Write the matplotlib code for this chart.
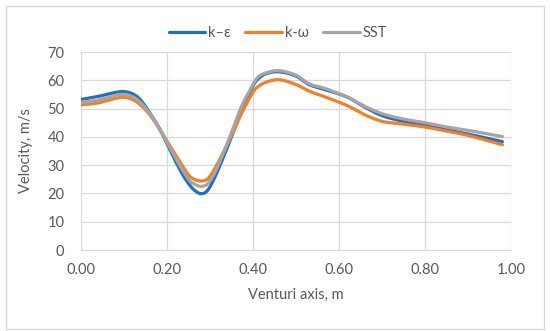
import numpy as np
import matplotlib
matplotlib.use("Agg")
import matplotlib.pyplot as plt
from matplotlib.patches import Rectangle

x_pos = [0.00, 0.04, 0.08, 0.10, 0.12, 0.137, 0.16, 0.184, 0.20, 0.23, 0.25, 0.265, 0.28,
         0.295, 0.315, 0.35, 0.371, 0.40, 0.412, 0.43, 0.46, 0.50, 0.53, 0.57, 0.62, 0.66,
         0.70, 0.75, 0.80, 0.85, 0.90, 0.98]
k_eps = [53.2, 54.3, 55.7, 56.0, 55.2, 53.3, 48.5, 42.5, 37.5, 28.4, 23.5, 21.0, 19.9,
         21.2, 27.0, 40.0, 48.5, 58.0, 60.5, 62.3, 63.0, 61.5, 58.5, 56.6, 54.0, 50.5,
         47.5, 45.5, 44.3, 42.5, 41.0, 38.3]
k_omega = [51.3, 52.0, 53.6, 54.0, 53.2, 51.5, 47.8, 42.5, 38.5, 31.3, 26.5, 24.9, 24.4,
           25.2, 29.8, 40.5, 47.5, 55.8, 57.8, 59.3, 60.2, 58.5, 56.2, 54.0, 51.0, 47.8,
           45.5, 44.5, 43.5, 42.0, 40.5, 37.2]
sst = [52.2, 53.0, 54.7, 55.0, 54.2, 52.4, 48.2, 42.5, 38.0, 29.8, 25.0, 23.2, 22.5,
       23.5, 28.5, 41.5, 50.0, 58.5, 61.2, 62.6, 63.4, 61.8, 58.8, 57.0, 54.0, 50.8,
       48.2, 46.3, 45.0, 43.5, 42.3, 40.1]
series_names = ["k\u2013\u03b5", "k-\u03c9", "SST"]
x_ticks = [0.0, 0.2, 0.4, 0.6, 0.8, 1.0]
y_ticks = [0, 10, 20, 30, 40, 50, 60, 70]


def smooth(xs, ys, n=30):
    # Hermite rendering with central-difference tangents (a "smoothed line")
    xs = np.asarray(xs, float); ys = np.asarray(ys, float)
    m = np.empty_like(ys)
    m[1:-1] = (ys[2:] - ys[:-2]) / (xs[2:] - xs[:-2])
    m[0] = (ys[1] - ys[0]) / (xs[1] - xs[0])
    m[-1] = (ys[-1] - ys[-2]) / (xs[-1] - xs[-2])
    ox, oy = [], []
    t = np.linspace(0, 1, n, endpoint=False)
    for i in range(len(xs) - 1):
        h = xs[i + 1] - xs[i]
        h00 = 2 * t**3 - 3 * t**2 + 1
        h10 = t**3 - 2 * t**2 + t
        h01 = -2 * t**3 + 3 * t**2
        h11 = t**3 - t**2
        ox.extend(xs[i] + t * h)
        oy.extend(h00 * ys[i] + h10 * h * m[i] + h01 * ys[i + 1] + h11 * h * m[i + 1])
    ox.append(xs[-1]); oy.append(ys[-1])
    return np.array(ox), np.array(oy)


plt.rcParams['font.family'] = ['Lato', 'DejaVu Sans']
txt = '#595959'
fig = plt.figure(figsize=(5.5, 3.31), dpi=100)
ax = fig.add_axes([81 / 550, 1 - 250 / 331, 430 / 550, 198 / 331])

colors = ['#1f6fc6', '#f57f22', '#a5a5a5']
for ys, name, c in zip([k_eps, k_omega, sst], series_names, colors):
    sx, sy = smooth(x_pos, ys)
    ax.plot(sx, sy, color=c, lw=2.3, label=name, solid_capstyle='round')

ax.set_xlim(0, 1.0)
ax.set_ylim(0, 70)
ax.set_xticks(x_ticks)
ax.set_xticklabels([f"{v:.2f}" for v in x_ticks])
ax.set_yticks(y_ticks)
ax.grid(True, color='#d9d9d9', lw=0.9)
ax.set_axisbelow(True)
for s in ax.spines.values():
    s.set_visible(False)
ax.spines['bottom'].set_visible(True)
ax.spines['bottom'].set_color('#d9d9d9')
ax.tick_params(length=0, colors=txt, labelsize=10.5, pad=9)
ax.tick_params(axis='y', pad=12)
ax.set_xlabel("Venturi axis, m", color=txt, fontsize=10.5, labelpad=8)
ax.set_ylabel("Velocity, m/s", color=txt, fontsize=10.5, labelpad=10)

leg = fig.legend(loc='center', bbox_to_anchor=(278 / 550, 1 - 33 / 331), ncol=3, frameon=False,
                 fontsize=10.5, handlelength=2.5, columnspacing=1.0, handletextpad=0.2,
                 labelcolor=txt)

fig.patches.append(Rectangle((6 / 550, 2 / 331), 538 / 550, 323 / 331, transform=fig.transFigure,
                             fill=False, edgecolor='#d9d9d9', lw=1.0))
fig.savefig("out.png", dpi=100)
